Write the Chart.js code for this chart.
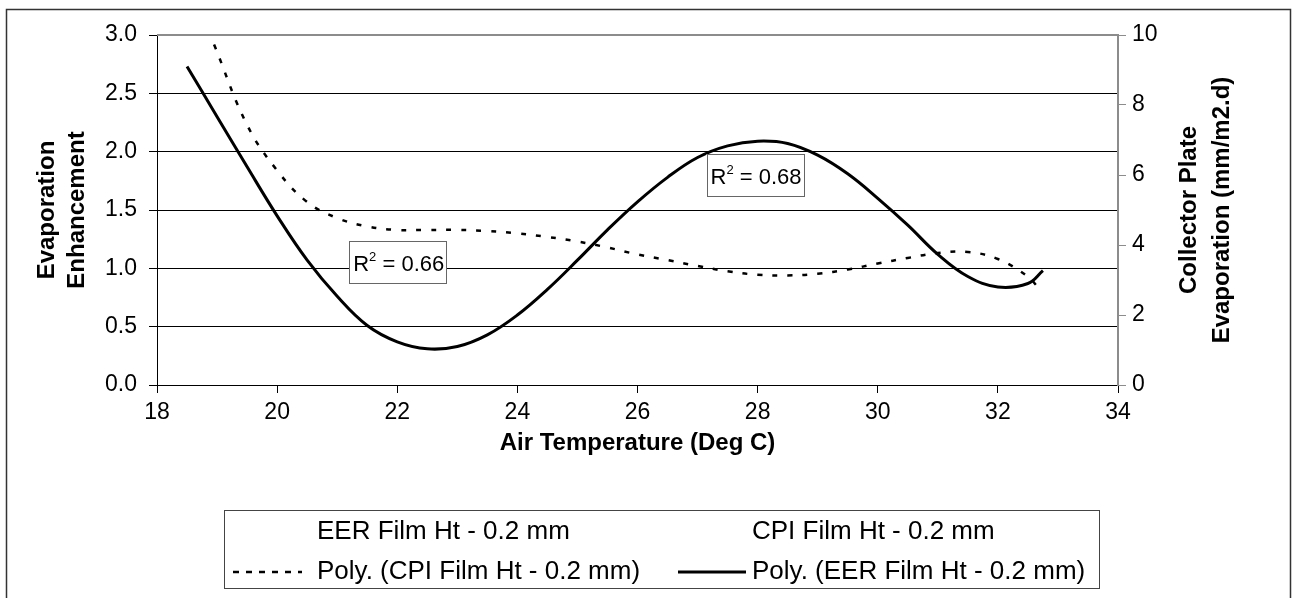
<!DOCTYPE html>
<html>
<head>
<meta charset="utf-8">
<script src="https://cdn.jsdelivr.net/npm/chart.js@4.4.1/dist/chart.umd.min.js"></script>
<style>
    html, body { margin: 0; padding: 0; background: #fff; }
</style>
</head>
<body>
<canvas id="graphe" width="1296" height="598"></canvas>
<script>
// Evaporation enhancement / collector plate vs air temperature
const POLICE = "'Liberation Sans', Arial, Helvetica, sans-serif";

// --- Données ---
// Polynôme EER (axe gauche)
const tempEER = [18.5, 19, 19.5, 20, 20.5, 21, 21.5, 22, 22.5, 23, 23.5, 24, 24.5, 25, 25.5,
    26, 26.5, 27, 27.5, 28, 28.5, 29, 29.5, 30, 30.5, 31, 31.5, 32, 32.5, 32.75];
const polyEER = [2.73, 2.30, 1.87, 1.45, 1.07, 0.76, 0.51, 0.37, 0.31, 0.33, 0.43, 0.60, 0.82, 1.07, 1.33,
    1.57, 1.78, 1.95, 2.05, 2.09, 2.07, 1.97, 1.81, 1.60, 1.37, 1.12, 0.93, 0.84, 0.87, 0.98];

// Polynôme CPI (axe droit, mm/m2.d)
const tempCPI = [18.95, 19.5, 20, 20.5, 21, 21.5, 22, 22.5, 23, 23.5, 24, 24.5, 25, 25.5,
    26, 26.5, 27, 27.5, 28, 28.5, 29, 29.5, 30, 30.5, 31, 31.5, 32, 32.5, 32.65];
const polyCPI = [9.73, 7.43, 6.13, 5.23, 4.77, 4.53, 4.43, 4.43, 4.43, 4.40, 4.33, 4.23, 4.10, 3.93,
    3.73, 3.57, 3.40, 3.25, 3.15, 3.13, 3.18, 3.30, 3.47, 3.63, 3.77, 3.80, 3.60, 3.10, 2.83];

const libelles = [
    'EER Film Ht - 0.2 mm',
    'CPI Film Ht - 0.2 mm',
    'Poly. (CPI Film Ht - 0.2 mm)',
    'Poly. (EER Film Ht - 0.2 mm)',
];
const r2Valeurs = ['0.66', '0.68'];

const points = (xs, ys) => xs.map((x, i) => ({ x, y: ys[i] }));

// R² : coin haut-gauche en unités des axes (x, axe gauche)
const r2Ancres = [[21.2, 1.234], [27.15, 1.98]];

function etiquetteR2(ctx, x, y, valeur) {
    const w = 97, h = 42;
    ctx.fillStyle = '#fff';
    ctx.fillRect(x, y, w, h);
    ctx.strokeStyle = '#666';
    ctx.lineWidth = 1;
    ctx.strokeRect(Math.round(x) + 0.5, Math.round(y) + 0.5, w, h);
    ctx.fillStyle = '#000';
    ctx.textAlign = 'left';
    ctx.textBaseline = 'alphabetic';
    ctx.font = `22px ${POLICE}`;
    ctx.fillText('R', x + 4, y + 30);
    const wR = ctx.measureText('R').width;
    ctx.font = `13px ${POLICE}`;
    ctx.fillText('2', x + 4 + wR, y + 20);
    const w2 = ctx.measureText('2').width;
    ctx.font = `22px ${POLICE}`;
    ctx.fillText(' = ' + valeur, x + 4 + wR + w2, y + 30);
}

const decor = {
    id: 'decor',
    afterDraw(chart) {
        const { ctx, chartArea: a, scales } = chart;
        ctx.save();

        // cadre extérieur
        ctx.strokeStyle = '#333';
        ctx.lineWidth = 1.5;
        ctx.strokeRect(6.5, 9.5, 1284, 600);

        // bord gris en haut de la zone de tracé
        ctx.strokeStyle = '#8c8c8c';
        ctx.lineWidth = 2;
        ctx.beginPath();
        ctx.moveTo(a.left, a.top);
        ctx.lineTo(a.right, a.top);
        ctx.stroke();

        // étiquettes R²
        r2Ancres.forEach(([vx, vy], i) => {
            etiquetteR2(ctx, scales.x.getPixelForValue(vx), scales.y.getPixelForValue(vy), r2Valeurs[i]);
        });

        // titre de l'axe droit (lu de bas en haut comme à gauche)
        ctx.fillStyle = '#000';
        ctx.font = `bold 24px ${POLICE}`;
        ctx.textAlign = 'center';
        ctx.textBaseline = 'middle';
        const yMil = (a.top + a.bottom) / 2;
        [['Collector Plate', 1189], ['Evaporation (mm/m2.d)', 1222]].forEach(([txt, xx]) => {
            ctx.save();
            ctx.translate(xx, yMil);
            ctx.rotate(-Math.PI / 2);
            ctx.fillText(txt, 0, 0);
            ctx.restore();
        });

        // légende
        ctx.strokeStyle = '#444';
        ctx.lineWidth = 1;
        ctx.strokeRect(224.5, 510.5, 875, 78);
        ctx.font = `26px ${POLICE}`;
        ctx.textAlign = 'left';
        ctx.textBaseline = 'middle';
        ctx.fillStyle = '#000';
        ctx.fillText(libelles[0], 317, 532);
        ctx.fillText(libelles[1], 752, 532);

        const dsCPI = chart.data.datasets[2];
        const dsEER = chart.data.datasets[3];
        ctx.strokeStyle = '#000';
        ctx.lineWidth = dsCPI.borderWidth;
        ctx.setLineDash([6, 7]);
        ctx.beginPath();
        ctx.moveTo(233, 572);
        ctx.lineTo(302, 572);
        ctx.stroke();
        ctx.fillText(libelles[2], 317, 572);

        ctx.lineWidth = dsEER.borderWidth;
        ctx.setLineDash([]);
        ctx.beginPath();
        ctx.moveTo(678, 572);
        ctx.lineTo(746, 572);
        ctx.stroke();
        ctx.fillText(libelles[3], 752, 572);

        ctx.restore();
    },
};

new Chart(document.getElementById('graphe'), {
    type: 'scatter',
    data: {
        datasets: [
            { label: libelles[0], data: [], yAxisID: 'y', pointRadius: 0 },
            { label: libelles[1], data: [], yAxisID: 'y2', pointRadius: 0 },
            {
                label: libelles[2],
                data: points(tempCPI, polyCPI),
                yAxisID: 'y2',
                showLine: true, pointRadius: 0, tension: 0.4,
                borderColor: '#000', borderWidth: 2.5, borderDash: [5, 10],
            },
            {
                label: libelles[3],
                data: points(tempEER, polyEER),
                yAxisID: 'y',
                showLine: true, pointRadius: 0, tension: 0.4,
                borderColor: '#000', borderWidth: 3,
            },
        ],
    },
    options: {
        responsive: false,
        animation: false,
        devicePixelRatio: 1,
        layout: { padding: { top: 35, left: 0, right: 0, bottom: 0 } },
        plugins: { legend: { display: false }, tooltip: { enabled: false } },
        scales: {
            x: {
                type: 'linear', position: 'bottom', min: 18, max: 34,
                ticks: { stepSize: 2, color: '#000', padding: 6, font: { family: POLICE, size: 23 } },
                grid: { drawOnChartArea: false, color: '#000', tickLength: 8 },
                border: { color: '#000', width: 1 },
                title: {
                    display: true, text: 'Air Temperature (Deg C)', color: '#000',
                    font: { family: POLICE, size: 24, weight: 'bold', lineHeight: 1.2 },
                    padding: { top: 0, bottom: 140 },
                },
                afterFit: (s) => { s.height = 213; },
            },
            y: {
                position: 'left', min: 0, max: 3,
                ticks: {
                    stepSize: 0.5, color: '#000', padding: 12,
                    font: { family: POLICE, size: 23 },
                    callback: (v) => v.toFixed(1),
                },
                grid: { color: '#000', lineWidth: 1, tickLength: 8 },
                border: { color: '#000', width: 1 },
                title: {
                    display: true, text: ['Evaporation', 'Enhancement'], color: '#000',
                    font: { family: POLICE, size: 24, weight: 'bold', lineHeight: 1.25 },
                    padding: { top: 32, bottom: 0 },
                },
                afterFit: (s) => { s.width = 157; },
            },
            y2: {
                position: 'right', min: 0, max: 10,
                ticks: { stepSize: 2, color: '#000', padding: 6, font: { family: POLICE, size: 23 } },
                grid: { drawOnChartArea: false, color: '#8c8c8c', tickLength: 8 },
                border: { color: '#8c8c8c', width: 2 },
                afterFit: (s) => { s.width = 178; },
            },
        },
    },
    plugins: [decor],
});
</script>
</body>
</html>
